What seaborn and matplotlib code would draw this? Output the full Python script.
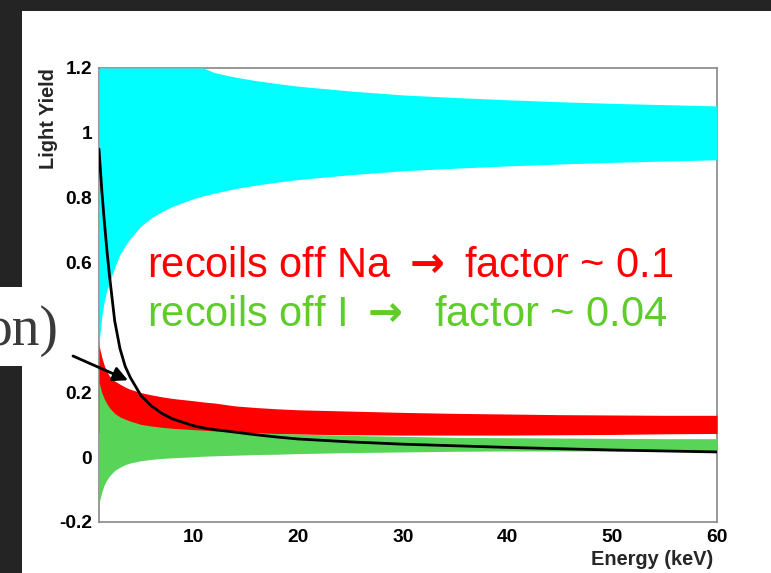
import numpy as np
import matplotlib
matplotlib.use('Agg')
import matplotlib.pyplot as plt
from matplotlib.patches import Rectangle, ConnectionPatch
from matplotlib.ticker import MultipleLocator
import seaborn as sns

# energy grid (keV) the bands were read at
energy = [1, 1.25, 1.5, 1.75, 2, 2.5, 3, 3.5, 4, 5, 6, 7, 8, 10, 11, 12,
          14, 16, 18, 20, 25, 30, 35, 40, 45, 50, 55, 60]

# electron recoils (cyan band)
cyan_low = [0.35, 0.43, 0.48, 0.515, 0.54, 0.585, 0.625, 0.652, 0.675, 0.712,
            0.738, 0.757, 0.773, 0.797, 0.806, 0.814, 0.828, 0.839, 0.848,
            0.856, 0.871, 0.883, 0.891, 0.898, 0.904, 0.909, 0.913, 0.917]
cyan_high = [1.2, 1.2, 1.2, 1.2, 1.2, 1.2, 1.2, 1.2, 1.2, 1.2, 1.2, 1.2, 1.2,
             1.2, 1.2, 1.186, 1.172, 1.161, 1.152, 1.144, 1.129, 1.117, 1.109,
             1.102, 1.096, 1.091, 1.087, 1.083]

# recoils off Na (red band)
na_low = [0.076] * 17 + [0.074, 0.072, 0.071, 0.069, 0.068, 0.068, 0.068,
                         0.069, 0.070, 0.072, 0.073]
na_high = [0.345, 0.31, 0.283, 0.264, 0.25, 0.235, 0.225, 0.216, 0.209, 0.199,
           0.192, 0.186, 0.181, 0.174, 0.170, 0.167, 0.158, 0.153, 0.149,
           0.146, 0.142, 0.138, 0.135, 0.133, 0.131, 0.130, 0.129, 0.129]

# recoils off I (green band)
i_low = [-0.143, -0.11, -0.085, -0.07, -0.058, -0.041, -0.031, -0.023, -0.018,
         -0.011, -0.007, -0.004, -0.002, 0.001, 0.003, 0.004, 0.006, 0.008,
         0.009, 0.011, 0.014, 0.016, 0.018, 0.019, 0.019, 0.019, 0.019, 0.019]
i_high = [0.232, 0.20, 0.18, 0.165, 0.152, 0.135, 0.124, 0.117, 0.111, 0.101,
          0.096, 0.092, 0.089, 0.085, 0.083, 0.081, 0.078, 0.075, 0.073,
          0.071, 0.067, 0.064, 0.061, 0.060, 0.059, 0.058, 0.057, 0.057]

# black curve
curve = [0.95, 0.83, 0.73, 0.64, 0.56, 0.42, 0.335, 0.28, 0.245, 0.19, 0.158,
         0.135, 0.118, 0.097, 0.09, 0.085, 0.077, 0.069, 0.062, 0.056, 0.047,
         0.04, 0.035, 0.03, 0.026, 0.022, 0.019, 0.016]

x_ticks = [10, 20, 30, 40, 50, 60]
x_tick_labels = ['10', '20', '30', '40', '50', '60']
y_ticks = [-0.2, 0, 0.2, 0.4, 0.6, 0.8, 1, 1.2]
y_tick_labels = ['-0.2', '0', '0.2', '0.4', '0.6', '0.8', '1', '1.2']

sns.set_style('white')
plt.rcParams['font.family'] = ['Liberation Sans', 'DejaVu Sans']
plt.rcParams['mathtext.fontset'] = 'dejavusans'

W, H = 771, 573
fig = plt.figure(figsize=(W / 100, H / 100), dpi=100, facecolor='#242424')

# white slide area
fig.add_artist(Rectangle((22 / W, 0), 1, (H - 11) / H, transform=fig.transFigure,
                         facecolor='white', edgecolor='none', zorder=-5))

ax = fig.add_axes([99 / W, 51 / H, 618 / W, 454 / H])
ax.set_facecolor('white')

ax.fill_between(energy, cyan_low, cyan_high, color='#00ffff', lw=0, zorder=3)
ax.fill_between(energy, na_low, na_high, color='#ff0000', lw=0, zorder=3)
ax.fill_between(energy, i_low, i_high, color='#58d558', lw=0, zorder=3)
sns.lineplot(x=energy, y=curve, color='black', lw=2, ax=ax, zorder=4)

ax.set_xlim(1, 60)
ax.set_ylim(-0.2, 1.2)
ax.set_xticks(x_ticks, x_tick_labels, fontweight='bold', fontsize=13.8)
ax.set_yticks(y_ticks, y_tick_labels, fontweight='bold', fontsize=13.8)
ax.xaxis.set_minor_locator(MultipleLocator(2))
ax.yaxis.set_minor_locator(MultipleLocator(0.05))
ax.tick_params(axis='x', which='major', direction='in', length=10, width=1,
               color='#666666', pad=5, labelcolor='black')
ax.tick_params(axis='x', which='minor', direction='in', length=5, width=1,
               color='#666666')
ax.tick_params(axis='y', which='major', direction='in', length=13.5, width=1,
               color='#666666', pad=5, labelcolor='black')
ax.tick_params(axis='y', which='minor', direction='in', length=6.7, width=1,
               color='#666666')
for s in ax.spines.values():
    s.set_color('#888888')
    s.set_linewidth(1.2)

ax.set_xlabel('Energy (keV)', fontweight='bold', fontsize=14.4, loc='right')
ax.xaxis.set_label_coords((713 - 99) / 618, (522 - 565) / 454)
ax.xaxis.label.set_va('baseline')
ax.set_ylabel('Light Yield', fontweight='bold', fontsize=14.4, loc='top')
ax.yaxis.set_label_coords((49 - 99) / 618, 1.0)
ax.yaxis.label.set_va('center')

ax.text(5.58, 0.557, r'recoils off Na $\mathbf{\rightarrow}$ factor ~ 0.1',
        color='#ff0000', fontsize=30, ha='left', va='baseline', zorder=5)
ax.text(5.58, 0.403, r'recoils off I $\mathbf{\rightarrow}$  factor ~ 0.04',
        color='#5fcc29', fontsize=30, ha='left', va='baseline', zorder=5)

# leftover from the slide: white box with text and an arrow
fig.add_artist(Rectangle((0, 207 / H), 96 / W, 79 / H, transform=fig.transFigure,
                         facecolor='white', edgecolor='none', zorder=1))
fig.text(59 / W, 1 - 345 / H, 'on)', fontsize=40, color='#3a3a3a',
         family=['Liberation Serif', 'DejaVu Serif'], ha='right', va='baseline',
         zorder=2)
arrow = ConnectionPatch(xyA=(73 / W, 1 - 356 / H), coordsA=fig.transFigure,
                        xyB=(3.77, 0.237), coordsB=ax.transData,
                        arrowstyle='-|>', mutation_scale=22, lw=2,
                        color='black', zorder=3)
fig.add_artist(arrow)

fig.savefig('out.png', dpi=100, facecolor=fig.get_facecolor())
